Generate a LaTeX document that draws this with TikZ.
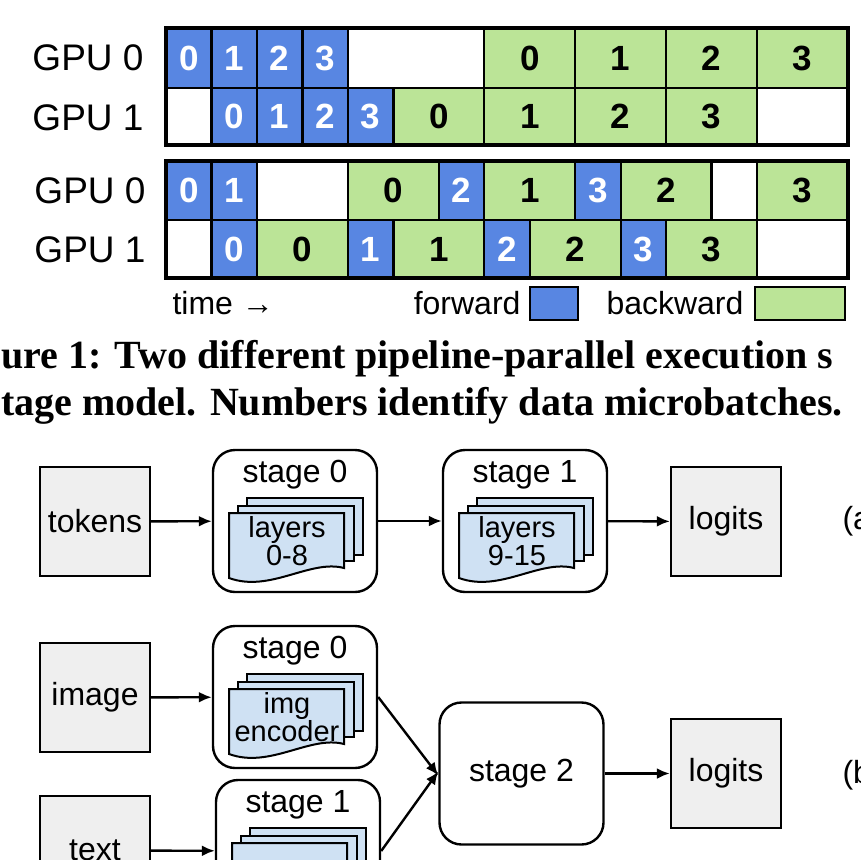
\documentclass[tikz,border=0pt]{standalone}
\usepackage{fontspec}
\setmainfont{Liberation Sans}
\newfontfamily\capfont{Liberation Serif}
\usetikzlibrary{arrows.meta}
\definecolor{fwdblue}{RGB}{88,134,226}
\definecolor{bwdgreen}{RGB}{187,228,151}
\definecolor{boxgray}{RGB}{239,239,239}
\definecolor{sheetblue}{RGB}{207,225,243}

% one stack of layer sheets inside a stage
\newcommand\layerstack[2]{%
  \begin{scope}[shift={(#1.center)}]
    \draw[sheet] (-48,-23) rectangle (68,34);
    \draw[sheet] (-57,-15) rectangle (59,40);
    \draw[sheet] (-66,-8) -- (49,-8) -- (49,47) .. controls (15,38) and (-25,72) .. (-66,57) -- cycle;
    \node[align=center,font=\fontsize{29}{28}\selectfont] at (-8,20) {#2};
  \end{scope}}

\begin{document}
\begin{tikzpicture}[x=1pt,y=-1pt,line width=2.4pt,
    fw/.style={draw,fill=fwdblue},
    bw/.style={draw,fill=bwdgreen},
    idle/.style={draw,fill=white},
    fwtxt/.style={text=white,font=\fontsize{35}{35}\selectfont\bfseries},
    bwtxt/.style={text=black,font=\fontsize{35}{35}\selectfont\bfseries},
    idletxt/.style={},
    gpu/.style={font=\fontsize{37}{37}\selectfont},
    inbox/.style={draw,fill=boxgray,minimum width=110pt,minimum height=109pt,font=\fontsize{32}{32}\selectfont},
    stagebox/.style={draw,rounded corners=22pt,minimum width=164pt,minimum height=142pt},
    stagelbl/.style={font=\fontsize{32}{32}\selectfont},
    sheet/.style={draw,fill=sheetblue,line width=2pt},
    arr/.style={-{Latex[length=13pt,width=11pt]}}]
  \useasboundingbox (0,0) rectangle (860,860);
  \clip (0,0) rectangle (860,860);

  %GPU labels
  \node[gpu] (g00) at (88,58) {GPU 0};
  \node[gpu] (g01) at (88,118) {GPU 1};
  \node[gpu] (g10) at (90,191) {GPU 0};
  \node[gpu] (g11) at (90,250) {GPU 1};

  %schedule (a)
  \begin{scope}[xshift=166pt,x=45.47pt]
    \foreach \s/\e/\k/\n in {0/1/fw/0,1/2/fw/1,2/3/fw/2,3/4/fw/3,4/7/idle/,7/9/bw/0,9/11/bw/1,11/13/bw/2,13/15/bw/3}
      \draw[\k] (\s,28) rectangle node[\k txt]{\n} (\e,88);
    \foreach \s/\e/\k/\n in {0/1/idle/,1/2/fw/0,2/3/fw/1,3/4/fw/2,4/5/fw/3,5/7/bw/0,7/9/bw/1,9/11/bw/2,11/13/bw/3,13/15/idle/}
      \draw[\k] (\s,88) rectangle node[\k txt]{\n} (\e,145);
    \draw[line width=3.5pt] (0,28) rectangle (15,145);
    %schedule (b)
    \foreach \s/\e/\k/\n in {0/1/fw/0,1/2/fw/1,2/4/idle/,4/6/bw/0,6/7/fw/2,7/9/bw/1,9/10/fw/3,10/12/bw/2,12/13/idle/,13/15/bw/3}
      \draw[\k] (\s,161) rectangle node[\k txt]{\n} (\e,220);
    \foreach \s/\e/\k/\n in {0/1/idle/,1/2/fw/0,2/4/bw/0,4/5/fw/1,5/7/bw/1,7/8/fw/2,8/10/bw/2,10/11/fw/3,11/13/bw/3,13/15/idle/}
      \draw[\k] (\s,220) rectangle node[\k txt]{\n} (\e,278);
    \draw[line width=3.5pt] (0,161) rectangle (15,278);
  \end{scope}

  %legend
  \node[anchor=base west,font=\fontsize{32}{32}\selectfont] (time) at (168,314) {time →};
  \draw[fw] (530,287) rectangle (578,320);
  \node[anchor=base east,font=\fontsize{32}{32}\selectfont] (fwlbl) at (525,314) {forward};
  \draw[bw] (755,287) rectangle (845,320);
  \node[anchor=base east,font=\fontsize{32}{32}\selectfont] (bwlbl) at (748,314) {backward};

  %caption
  \node[anchor=base west,inner sep=0pt,font=\capfont\fontsize{40}{40}\selectfont\bfseries] (cap1) at (0,368) {ure 1: Two different pipeline-parallel execution s};
  \node[anchor=base west,inner sep=0pt,font=\capfont\fontsize{40}{40}\selectfont\bfseries] (cap2) at (0,415) {tage model. Numbers identify data microbatches.};

  %model (a)
  \node[inbox] (tok) at (95,521.5) {tokens};
  \node[stagebox] (s0a) at (295,521) {};
  \node[stagelbl] at (295,475) {stage 0};
  \layerstack{s0a}{layers\\0-8}
  \node[stagebox] (s1a) at (525,521) {};
  \node[stagelbl] at (525,475) {stage 1};
  \layerstack{s1a}{layers\\9-15}
  \node[inbox] (loga) at (726,521.5) {logits};
  \node[stagelbl,anchor=west] (tagA) at (838,521) {(a)};
  \draw[arr] (tok) -- (s0a);
  \draw[arr] (s0a) -- (s1a);
  \draw[arr] (s1a) -- (loga);

  %model (b)
  \node[inbox] (img) at (95,697.5) {image};
  \node[stagebox] (s0b) at (295,697) {};
  \node[stagelbl] at (295,651) {stage 0};
  \layerstack{s0b}{img\\encoder}
  \node[inbox] (txt) at (95,850.5) {text};
  \node[stagebox] (s1b) at (298,851) {};
  \node[stagelbl] at (298,805) {stage 1};
  \layerstack{s1b}{text}
  \node[stagebox] (s2b) at (521.5,773.5) {\fontsize{32}{32}\selectfont stage 2};
  \node[inbox] (logb) at (726,773.5) {logits};
  \node[stagelbl,anchor=west] (tagB) at (838,775) {(b)};
  \draw[arr] (img) -- (s0b);
  \draw[arr] (txt) -- (s1b);
  \draw[arr] (s0b.east) -- ([yshift=-2pt]s2b.west);
  \draw[arr] (s1b.east) -- ([yshift=2pt]s2b.west);
  \draw[arr] (s2b) -- (logb);
\end{tikzpicture}
\end{document}
